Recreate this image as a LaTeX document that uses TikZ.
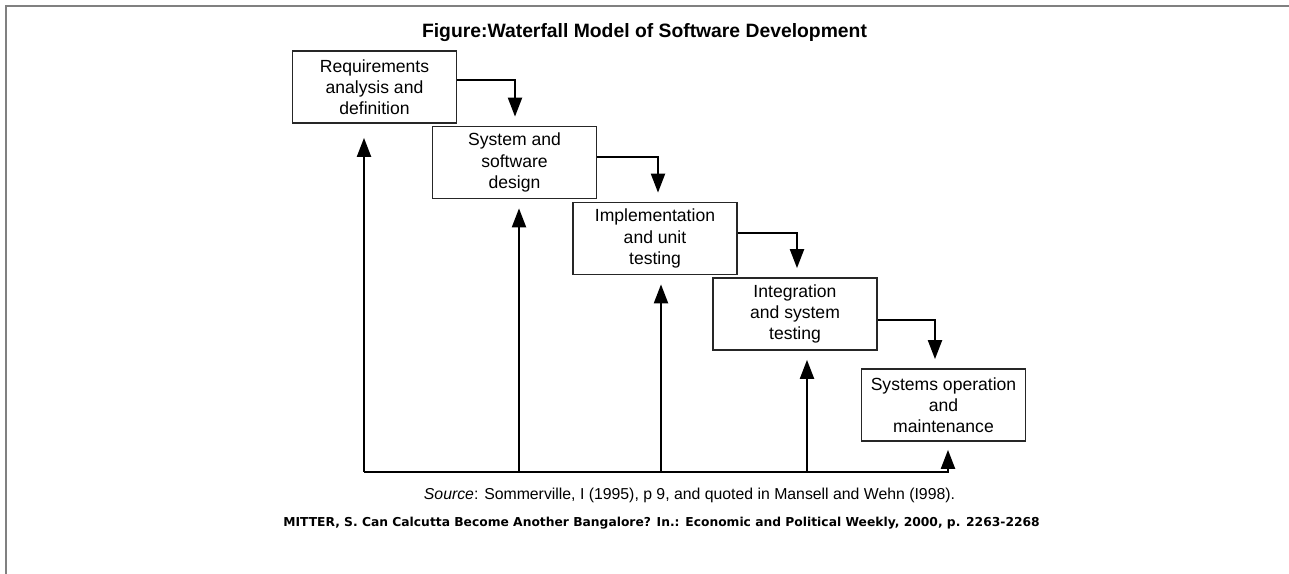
\documentclass[tikz,border=0pt]{standalone}
\usepackage{fontspec}
\setmainfont{Liberation Sans}
\newfontfamily\citefont{DejaVu Sans}
\usetikzlibrary{arrows.meta}
\tikzset{
  phasebox/.style={rectangle, draw=black!85, line width=1pt, fill=white, minimum width=3.28cm, minimum height=1.44cm, align=center, inner sep=1pt, font=\fontsize{10}{12}\selectfont},
  flow/.style={line width=1.2pt, -{Triangle[length=0.38cm,width=0.28cm]}, shorten >=0.18cm},
}
\begin{document}
\begin{tikzpicture}[x=0.02cm, y=-0.02cm]
	\useasboundingbox (0,0) rectangle (1289,574);
	\draw[gray, line width=1pt] (6,574) -- (6,6) -- (1289,6);

	\node(title) at (644.5,33){\fontsize{11}{13}\selectfont\bfseries Figure:Waterfall Model of Software Development};

	\node[phasebox](reqDef) at (374.5,87){Requirements\\analysis and\\definition};
	\node[phasebox](sysDesign) at (514.5,162.5){System and\\software\\design};
	\node[phasebox](implUnit) at (655,238.5){Implementation\\and unit\\testing};
	\node[phasebox](intTest) at (795,314){Integration\\and system\\testing};
	\node[phasebox](opsMaint) at (943.5,405){Systems operation\\and\\maintenance};

	% downward steps
	\coordinate(reqTurn) at (515,80);
	\draw[flow](reqDef.east |- reqTurn) -- (reqTurn) -- (reqTurn |- sysDesign.north);
	\coordinate(desTurn) at (658,157);
	\draw[flow](sysDesign.east |- desTurn) -- (desTurn) -- (desTurn |- implUnit.north);
	\coordinate(implTurn) at (797,233);
	\draw[flow](implUnit.east |- implTurn) -- (implTurn) -- (implTurn |- intTest.north);
	\coordinate(intTurn) at (935,320);
	\draw[flow](intTest.east |- intTurn) -- (intTurn) -- (intTurn |- opsMaint.north);

	% feedback
	\coordinate(loopStart) at (364,472);
	\coordinate(loopEnd) at (948,472);
	\draw[flow, shorten >=0.28cm](loopStart) -- (loopStart |- reqDef.south);
	\draw[flow, line join=miter, shorten >=0.16cm](loopStart) -- (loopEnd) -- (loopEnd |- opsMaint.south);
	\coordinate(fbDesign) at (519,472);
	\coordinate(fbImpl) at (661,472);
	\coordinate(fbInt) at (807,472);
	\foreach \fb/\phase in {fbDesign/sysDesign, fbImpl/implUnit, fbInt/intTest}
		\draw[flow](\fb) -- (\fb |- \phase.south);

	\node(source) at (689.5,495){\fontsize{9}{11}\selectfont\textit{Source}: Sommerville, I (1995), p 9, and quoted in Mansell and Wehn (I998).};
	\node(citation) at (661.5,523){\citefont\bfseries\fontsize{7}{9}\selectfont MITTER, S. Can Calcutta Become Another Bangalore? In.: Economic and Political Weekly, 2000, p. 2263-2268};
\end{tikzpicture}
\end{document}
